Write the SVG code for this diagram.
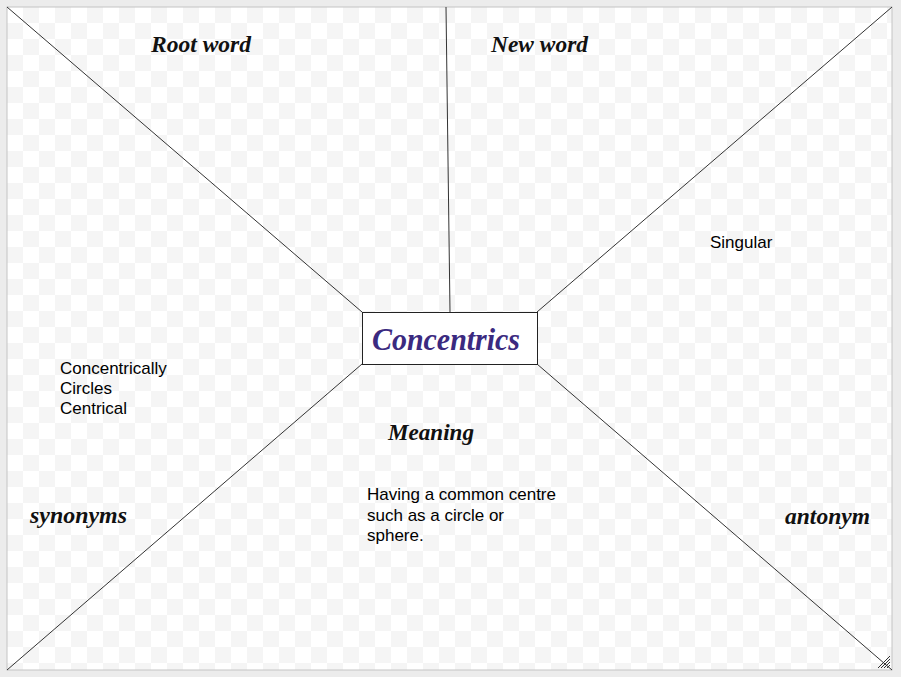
<svg xmlns="http://www.w3.org/2000/svg" width="901" height="677" viewBox="0 0 901 677">
<defs>
<pattern id="chk" x="7" y="7" width="32" height="32" patternUnits="userSpaceOnUse">
<rect width="32" height="32" fill="#ffffff"/>
<rect x="16" y="0" width="16" height="16" fill="#f5f5f5"/>
<rect x="0" y="16" width="16" height="16" fill="#f5f5f5"/>
</pattern>
<style>
.ln{stroke:#333;stroke-width:1;fill:none}
.scr{font-family:"Liberation Serif","Times New Roman",serif;font-style:italic;font-weight:bold;font-size:24px;fill:#111}
.txt{font-family:"Liberation Sans",Arial,sans-serif;font-size:17px;fill:#000}
</style>
</defs>
<rect x="0" y="0" width="901" height="677" fill="#ececec"/>
<rect x="7" y="7" width="885" height="663" fill="url(#chk)" stroke="#c4c4c4" stroke-width="1"/>
<g id="connectors">
<line class="ln" x1="7" y1="7" x2="362" y2="312"/>
<line class="ln" x1="446" y1="7" x2="450" y2="312" stroke-width="1.3"/>
<line class="ln" x1="892" y1="7" x2="537" y2="312"/>
<line class="ln" x1="7" y1="670" x2="362" y2="364"/>
<line class="ln" x1="892" y1="670" x2="537" y2="364"/>
</g>
<g id="center">
<rect x="362.5" y="312.5" width="175" height="52" fill="#ffffff" stroke="#222" stroke-width="1"/>
<text x="372" y="350" textLength="148" lengthAdjust="spacingAndGlyphs" style="font-family:'Liberation Serif','Times New Roman',serif;font-style:italic;font-weight:bold;font-size:31px;fill:#3b2a80">Concentrics</text>
</g>
<g id="root-word"><text class="scr" x="151" y="52" textLength="100" lengthAdjust="spacingAndGlyphs">Root word</text></g>
<g id="new-word"><text class="scr" x="491" y="52" textLength="97" lengthAdjust="spacingAndGlyphs">New word</text></g>
<g id="singular"><text class="txt" x="710" y="248">Singular</text></g>
<g id="synonyms-list">
<text class="txt" x="60" y="374">Concentrically</text>
<text class="txt" x="60" y="394">Circles</text>
<text class="txt" x="60" y="414">Centrical</text>
</g>
<g id="meaning"><text class="scr" x="388" y="440" textLength="86" lengthAdjust="spacingAndGlyphs">Meaning</text></g>
<g id="meaning-text">
<text class="txt" x="367" y="500">Having a common centre</text>
<text class="txt" x="367" y="521">such as a circle or</text>
<text class="txt" x="367" y="541">sphere.</text>
</g>
<g id="synonyms"><text class="scr" x="30" y="523" textLength="97" lengthAdjust="spacingAndGlyphs">synonyms</text></g>
<g id="antonym"><text class="scr" x="785" y="524" textLength="85" lengthAdjust="spacingAndGlyphs">antonym</text></g>
<g id="grip" stroke="#333" stroke-width="1">
<line x1="878" y1="668" x2="890" y2="656"/>
<line x1="881" y1="668" x2="890" y2="659"/>
<line x1="884" y1="668" x2="890" y2="662"/>
<line x1="887" y1="668" x2="890" y2="665"/>
</g>
</svg>
